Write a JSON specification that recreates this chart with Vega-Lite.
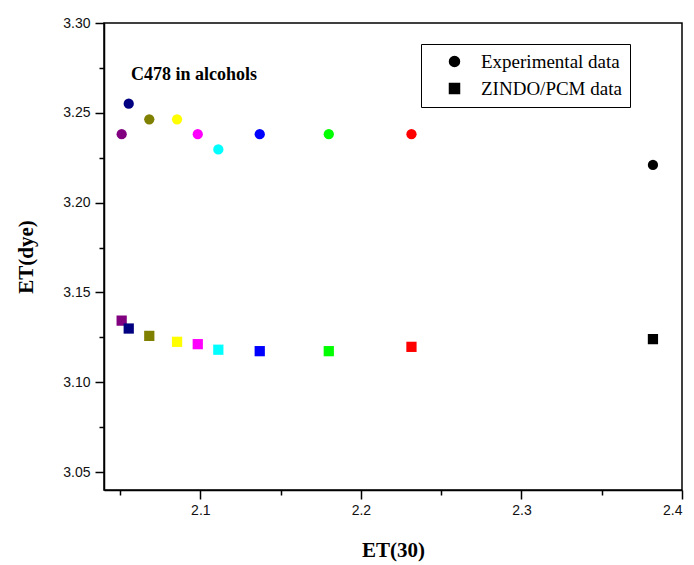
{
  "$schema": "https://vega.github.io/schema/vega-lite/v6.json",
  "width": 578,
  "height": 467,
  "autosize": {"type": "none"},
  "padding": {"left": 104, "top": 23, "right": 12, "bottom": 75},
  "background": "white",
  "config": {
    "view": {"stroke": "black", "strokeWidth": 1.5},
    "axis": {
      "domainColor": "black", "domainWidth": 1.5, "tickColor": "black", "tickWidth": 1.5,
      "labelFont": "Liberation Sans", "labelFontSize": 14, "labelColor": "#111",
      "titleFont": "Liberation Serif", "titleFontWeight": "bold", "titleFontSize": 21, "titleColor": "black",
      "grid": false
    }
  },
  "datasets": {
    "pts": [
      {"et30": 2.0510, "etdye": 3.2381, "series": "Experimental data", "solvent": "c1", "col": "#800080"},
      {"et30": 2.0554, "etdye": 3.2551, "series": "Experimental data", "solvent": "c2", "col": "#000080"},
      {"et30": 2.0682, "etdye": 3.2464, "series": "Experimental data", "solvent": "c3", "col": "#808000"},
      {"et30": 2.0855, "etdye": 3.2464, "series": "Experimental data", "solvent": "c4", "col": "#FFFF00"},
      {"et30": 2.0984, "etdye": 3.2381, "series": "Experimental data", "solvent": "c5", "col": "#FF00FF"},
      {"et30": 2.1112, "etdye": 3.2296, "series": "Experimental data", "solvent": "c6", "col": "#00FFFF"},
      {"et30": 2.1370, "etdye": 3.2381, "series": "Experimental data", "solvent": "c7", "col": "#0000FF"},
      {"et30": 2.1800, "etdye": 3.2381, "series": "Experimental data", "solvent": "c8", "col": "#00FF00"},
      {"et30": 2.2315, "etdye": 3.2381, "series": "Experimental data", "solvent": "c9", "col": "#FF0000"},
      {"et30": 2.3819, "etdye": 3.2210, "series": "Experimental data", "solvent": "c10", "col": "#000000"},
      {"et30": 2.0510, "etdye": 3.1343, "series": "ZINDO/PCM data", "solvent": "c1", "col": "#800080"},
      {"et30": 2.0554, "etdye": 3.1299, "series": "ZINDO/PCM data", "solvent": "c2", "col": "#000080"},
      {"et30": 2.0682, "etdye": 3.1258, "series": "ZINDO/PCM data", "solvent": "c3", "col": "#808000"},
      {"et30": 2.0855, "etdye": 3.1225, "series": "ZINDO/PCM data", "solvent": "c4", "col": "#FFFF00"},
      {"et30": 2.0984, "etdye": 3.1212, "series": "ZINDO/PCM data", "solvent": "c5", "col": "#FF00FF"},
      {"et30": 2.1112, "etdye": 3.1181, "series": "ZINDO/PCM data", "solvent": "c6", "col": "#00FFFF"},
      {"et30": 2.1370, "etdye": 3.1173, "series": "ZINDO/PCM data", "solvent": "c7", "col": "#0000FF"},
      {"et30": 2.1800, "etdye": 3.1173, "series": "ZINDO/PCM data", "solvent": "c8", "col": "#00FF00"},
      {"et30": 2.2315, "etdye": 3.1197, "series": "ZINDO/PCM data", "solvent": "c9", "col": "#FF0000"},
      {"et30": 2.3819, "etdye": 3.1240, "series": "ZINDO/PCM data", "solvent": "c10", "col": "#000000"}
    ],
    "note": [{"et30": 2.0568, "etdye": 3.2708, "text": "C478 in alcohols"}]
  },
  "resolve": {"axis": {"x": "independent", "y": "independent"}},
  "layer": [
    {
      "data": {"name": "pts"},
      "mark": {"type": "point", "filled": true, "size": 105, "opacity": 1},
      "encoding": {
        "x": {"field": "et30", "type": "quantitative", "scale": {"domain": [2.04, 2.4], "nice": false, "zero": false},
          "axis": {"orient": "bottom", "values": [2.1, 2.2, 2.3, 2.4], "tickSize": 9, "labelPadding": 4, "title": "ET(30)", "titlePadding": 22, "format": ".1f"}},
        "y": {"field": "etdye", "type": "quantitative", "scale": {"domain": [3.04, 3.30], "nice": false, "zero": false},
          "axis": {"orient": "left", "values": [3.05, 3.10, 3.15, 3.20, 3.25, 3.30], "tickSize": 9, "labelPadding": 5, "format": ".2f", "title": "ET(dye)", "titlePadding": 26}},
        "shape": {"field": "series", "type": "nominal",
          "scale": {"domain": ["Experimental data", "ZINDO/PCM data"], "range": ["circle", "square"]},
          "legend": {"title": null, "orient": "none", "legendX": 317, "legendY": 21,
            "strokeColor": "black", "padding": 8, "symbolOffset": 16,
            "symbolFillColor": "black", "symbolStrokeColor": "black", "symbolSize": 100,
            "labelFont": "Liberation Serif", "labelFontSize": 19, "labelColor": "black", "labelOffset": 17, "rowPadding": 7,
            "labelExpr": "datum.label == 'ZINDO/PCM data' ? '  ZINDO/PCM data' : datum.label"}},
        "color": {"field": "col", "type": "nominal", "scale": null, "legend": null}
      }
    },
    {
      "data": {"name": "pts"},
      "mark": {"type": "point", "opacity": 0},
      "encoding": {
        "x": {"field": "et30", "type": "quantitative",
          "axis": {"orient": "bottom", "values": [2.05, 2.15, 2.25, 2.35], "tickSize": 5, "labels": false, "domain": false, "title": null}},
        "y": {"field": "etdye", "type": "quantitative",
          "axis": {"orient": "left", "values": [3.075, 3.125, 3.175, 3.225, 3.275], "tickSize": 5, "labels": false, "domain": false, "title": null}}
      }
    },
    {
      "data": {"name": "note"},
      "mark": {"type": "text", "align": "left", "baseline": "middle", "font": "Liberation Serif", "fontWeight": "bold", "fontSize": 18, "color": "black"},
      "encoding": {
        "x": {"field": "et30", "type": "quantitative", "axis": null},
        "y": {"field": "etdye", "type": "quantitative", "axis": null},
        "text": {"field": "text"}
      }
    }
  ]
}
